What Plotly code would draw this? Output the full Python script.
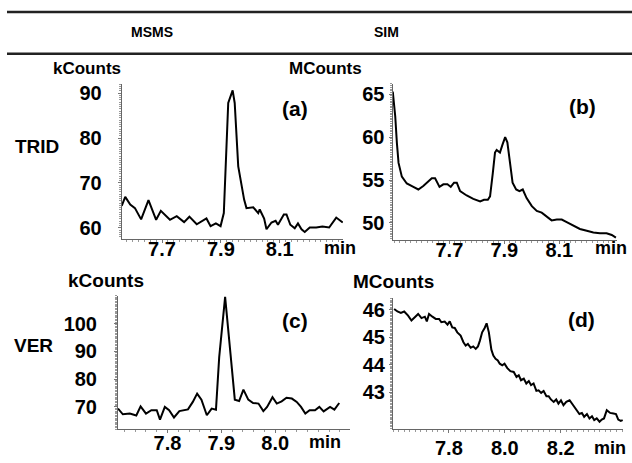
import plotly.graph_objects as go

FONT = "Liberation Sans"

# ---- data (time in min, intensity) ----
a_t = [7.563, 7.575, 7.592, 7.608, 7.629, 7.654, 7.680, 7.696, 7.727, 7.750,
       7.775, 7.793, 7.818, 7.851, 7.865, 7.883, 7.899, 7.910, 7.925, 7.940,
       7.947, 7.959, 7.979, 7.987, 8.010, 8.027, 8.032, 8.047, 8.055, 8.072,
       8.086, 8.094, 8.114, 8.123, 8.136, 8.151, 8.162, 8.174, 8.185, 8.202,
       8.224, 8.245, 8.268, 8.292, 8.314]
a_v = [64.9, 66.9, 65.2, 64.4, 61.9, 66.2, 61.8, 63.8, 61.8, 62.6,
       61.3, 62.5, 60.8, 62.1, 60.4, 61.0, 60.4, 63.3, 87.8, 90.6,
       87.8, 73.7, 66.3, 64.4, 64.6, 63.3, 64.1, 62.1, 59.7, 61.2,
       61.6, 60.7, 63.0, 63.0, 60.7, 59.9, 61.0, 59.7, 59.1, 60.1,
       60.1, 60.3, 60.1, 62.3, 61.2]

b_t = [7.494, 7.503, 7.509, 7.515, 7.527, 7.545, 7.569, 7.587, 7.605, 7.618,
       7.636, 7.648, 7.664, 7.678, 7.693, 7.705, 7.717, 7.727, 7.739, 7.763,
       7.787, 7.812, 7.826, 7.840, 7.848, 7.858, 7.866, 7.872, 7.884, 7.893,
       7.903, 7.911, 7.921, 7.930, 7.943, 7.955, 7.967, 7.981, 8.000, 8.018,
       8.036, 8.054, 8.072, 8.091, 8.109, 8.127, 8.151, 8.175, 8.200, 8.224,
       8.248, 8.272, 8.291, 8.306]
b_v = [65.3, 62.4, 59.3, 57.0, 55.4, 54.6, 54.2, 53.9, 54.3, 54.7,
       55.2, 55.2, 54.2, 54.5, 54.5, 54.2, 54.7, 54.7, 53.7, 53.2,
       52.8, 52.5, 52.7, 52.7, 53.1, 55.8, 58.2, 58.5, 58.2, 59.1,
       60.0, 59.4, 57.0, 54.7, 53.9, 53.7, 53.9, 52.9, 51.96, 51.4,
       51.2, 50.8, 50.3, 50.4, 50.4, 50.1, 49.7, 49.3, 49.1, 48.9,
       48.8, 48.8, 48.6, 48.3]

c_t = [7.708, 7.717, 7.730, 7.742, 7.750, 7.760, 7.770, 7.780, 7.786, 7.795,
       7.803, 7.812, 7.822, 7.838, 7.847, 7.855, 7.863, 7.873, 7.882, 7.890,
       7.896, 7.907, 7.917, 7.925, 7.933, 7.941, 7.950, 7.959, 7.969, 7.978,
       7.985, 7.995, 8.003, 8.012, 8.021, 8.031, 8.040, 8.048, 8.056, 8.064,
       8.074, 8.082, 8.090, 8.102, 8.110, 8.119]
c_v = [69.4, 67.35, 67.6, 66.9, 70.2, 67.6, 68.8, 68.8, 65.45, 70.0,
       68.8, 66.2, 68.5, 69.1, 71.8, 74.8, 72.6, 67.0, 69.4, 69.0,
       87.9, 109.6, 89.1, 72.6, 72.1, 76.2, 72.6, 71.4, 71.2, 68.5,
       70.0, 73.5, 71.2, 72.0, 73.3, 73.0, 71.8, 70.0, 67.6, 68.8,
       68.8, 70.0, 68.4, 70.0, 69.0, 71.4]

d_t = [7.604, 7.616, 7.628, 7.640, 7.654, 7.666, 7.678, 7.690, 7.702, 7.714,
       7.721, 7.729, 7.741, 7.753, 7.765, 7.773, 7.785, 7.795, 7.803, 7.812,
       7.821, 7.830, 7.842, 7.852, 7.860, 7.868, 7.878, 7.887, 7.896, 7.904,
       7.911, 7.919, 7.928, 7.935, 7.943, 7.952, 7.959, 7.967, 7.975, 7.982,
       7.991, 7.999, 8.009, 8.020, 8.032, 8.042, 8.050, 8.058, 8.068, 8.077,
       8.086, 8.094, 8.103, 8.113, 8.121, 8.130, 8.139, 8.149, 8.157, 8.165,
       8.175, 8.184, 8.192, 8.201, 8.210, 8.220, 8.232, 8.244, 8.256, 8.267,
       8.276, 8.284, 8.294, 8.303, 8.312, 8.320, 8.329, 8.339, 8.347, 8.355,
       8.365, 8.377, 8.389, 8.398, 8.406, 8.415, 8.422]
d_v = [46.03, 45.94, 45.89, 45.94, 45.79, 45.61, 45.73, 45.85, 45.70, 45.75,
       45.58, 45.85, 45.75, 45.67, 45.67, 45.55, 45.57, 45.46, 45.58, 45.36,
       45.34, 45.18, 45.06, 44.82, 44.70, 44.76, 44.62, 44.67, 44.58, 44.67,
       44.88, 45.18, 45.34, 45.51, 45.18, 44.55, 44.34, 44.22, 44.16, 44.04,
       43.98, 44.04, 43.88, 43.77, 43.74, 43.56, 43.62, 43.44, 43.50, 43.32,
       43.41, 43.26, 43.32, 43.05, 43.07, 42.98, 43.05, 42.86, 42.86, 42.74,
       42.65, 42.74, 42.59, 42.71, 42.53, 42.65, 42.71, 42.53, 42.35, 42.21,
       42.25, 42.11, 42.21, 42.05, 42.13, 41.99, 42.05, 41.93, 42.01, 42.05,
       42.35, 42.25, 42.23, 42.21, 42.01, 41.96, 41.99]

# tick labels
a_xticks = ["7.7", "7.9", "8.1"]
a_yticks = [60, 70, 80, 90]
b_xticks = ["7.7", "7.9", "8.1"]
b_yticks = [50, 55, 60, 65]
c_xticks = ["7.8", "7.9", "8.0"]
c_yticks = [70, 80, 90, 100]
d_xticks = ["7.8", "8.0", "8.2"]
d_yticks = [43, 44, 45, 46]

col_titles = ["MSMS", "SIM"]
row_titles = ["TRID", "VER"]
panel_tags = ["(a)", "(b)", "(c)", "(d)"]
units = ["kCounts", "MCounts", "kCounts", "MCounts"]

W, H = 632, 463


def px(x):
    return x / W


def py(y):
    return 1 - y / H


panels = [
    # t, v, xticks, yticks, xrange, yrange, left,right,top,bottom px, ystandoff, xstandoff
    (a_t, a_v, a_xticks, a_yticks, [7.563, 8.315], [57.54, 92.1], 121.7, 343, 82, 238, 12, -11),
    (b_t, b_v, b_xticks, b_yticks, [7.493, 8.310], [48.02, 66.23], 392.5, 617, 82, 239, 0, -11),
    (c_t, c_v, c_xticks, c_yticks, [7.708, 8.139], [62.0, 110.0], 118, 350, 295, 429, 13, -7),
    (d_t, d_v, d_xticks, d_yticks, [7.600, 8.423], [41.66, 46.44], 393, 623, 297, 429, 0, -2),
]

fig = go.Figure()
layout = {}
tickfont = dict(family=FONT, size=20, color="black", weight="bold")

for i, (t, v, xt, yt, xr, yr, l, r, top, bot, ysd, xsd) in enumerate(panels):
    n = "" if i == 0 else str(i + 1)
    fig.add_trace(go.Scatter(x=t, y=v, mode="lines",
                             line=dict(color="black", width=2),
                             xaxis="x" + n, yaxis="y" + n, showlegend=False,
                             hoverinfo="skip"))
    layout["xaxis" + n] = dict(
        domain=[px(l), px(r)], range=xr, anchor="y" + n,
        tickvals=[float(s) for s in xt], ticktext=xt,
        showline=True, linecolor="#666", linewidth=1,
        ticks="outside", ticklen=3, tickcolor="#777", tickwidth=1,
        minor=dict(dtick=0.02, ticks="outside", ticklen=2, tickcolor="#999"),
        showgrid=False, zeroline=False, tickfont=tickfont,
        ticklabelstandoff=xsd,
    )
    layout["yaxis" + n] = dict(
        domain=[py(bot), py(top)], range=yr, anchor="x" + n,
        tickvals=yt, showline=True, linecolor="#666", linewidth=1,
        ticks="outside", ticklen=3, tickcolor="#777", tickwidth=1,
        minor=dict(ticks="outside", ticklen=2, tickcolor="#999", nticks=25),
        showgrid=False, zeroline=False, tickfont=tickfont,
        ticklabelstandoff=ysd,
    )

annos = []


def txt(s, x, y, size, xanchor="center"):
    annos.append(dict(text=s, x=px(x), y=py(y), xref="paper", yref="paper",
                      xanchor=xanchor, yanchor="middle", showarrow=False,
                      font=dict(family=FONT, size=size, color="black", weight="bold")))


txt(col_titles[0], 152, 30, 14)
txt(col_titles[1], 386, 30, 14)
txt(row_titles[0], 37, 145, 19)
txt(row_titles[1], 33, 345, 19)
txt(units[0], 87, 67, 17)
txt(units[1], 325, 67, 17)
txt(units[2], 106, 280, 19)
txt(units[3], 393, 281, 19)
txt(panel_tags[0], 295, 107, 21)
txt(panel_tags[1], 582, 105, 21)
txt(panel_tags[2], 295, 320, 21)
txt(panel_tags[3], 581, 319, 21)
txt("min", 340, 247, 18)
txt("min", 611, 247, 18)
txt("min", 325, 442, 18)
txt("min", 610, 448, 18)

shapes = [
    dict(type="line", xref="paper", yref="paper", x0=px(7), x1=1, y0=py(10), y1=py(10),
         line=dict(color="#222", width=2.5)),
    dict(type="line", xref="paper", yref="paper", x0=px(7), x1=1, y0=py(52), y1=py(52),
         line=dict(color="#222", width=2.5)),
]

fig.update_layout(width=W, height=H, margin=dict(l=0, r=0, t=0, b=0),
                  paper_bgcolor="white", plot_bgcolor="white",
                  annotations=annos, shapes=shapes, **layout)

fig.write_html("out.html", config={"displayModeBar": False},
               post_script="document.body.style.margin='0';document.body.style.overflow='hidden';")
